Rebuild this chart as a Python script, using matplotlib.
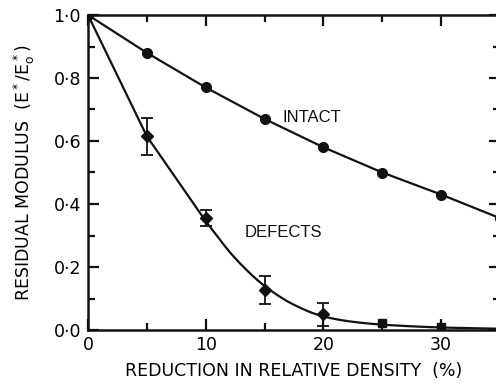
import numpy as np
import matplotlib
matplotlib.use("Agg")
import matplotlib.pyplot as plt
from matplotlib.ticker import MultipleLocator, FuncFormatter

# Data
intact_x = [0, 5, 10, 15, 20, 25, 30, 35]
intact_y = [1.0, 0.88, 0.77, 0.67, 0.58, 0.50, 0.43, 0.355]

defect_x = [5, 10, 15, 20]
defect_y = [0.615, 0.355, 0.127, 0.05]
defect_err = [0.058, 0.025, 0.046, 0.037]

square_x = [25, 30]
square_y = [0.022, 0.01]

# trend line: straight part, then a smooth tail
curve_lin_x = [0, 5, 10]
curve_lin_y = [1.0, 0.615, 0.345]
curve_tail_x = [10, 12.5, 15, 17.5, 20, 22.5, 25, 30, 35]
curve_tail_y = [0.345, 0.228, 0.14, 0.08, 0.043, 0.026, 0.017, 0.008, 0.004]


def pchip(xk, yk, xs):
    xk = np.asarray(xk, float); yk = np.asarray(yk, float)
    h = np.diff(xk); d = np.diff(yk) / h
    n = len(xk)
    m = np.zeros(n)
    for i in range(1, n - 1):
        if d[i - 1] * d[i] <= 0:
            m[i] = 0
        else:
            w1 = 2 * h[i] + h[i - 1]; w2 = h[i] + 2 * h[i - 1]
            m[i] = (w1 + w2) / (w1 / d[i - 1] + w2 / d[i])
    m[0] = d[0]; m[-1] = d[-1]
    out = np.empty_like(xs)
    for j, x in enumerate(xs):
        i = min(max(np.searchsorted(xk, x) - 1, 0), n - 2)
        t = (x - xk[i]) / h[i]
        h00 = 2*t**3 - 3*t**2 + 1; h10 = t**3 - 2*t**2 + t
        h01 = -2*t**3 + 3*t**2; h11 = t**3 - t**2
        out[j] = h00*yk[i] + h10*h[i]*m[i] + h01*yk[i+1] + h11*h[i]*m[i+1]
    return out


W, H = 496, 392
fig = plt.figure(figsize=(W/100, H/100), dpi=100)
left, bottom = 88/W, (H-330)/H
top = (H-15)/H
right = 500/W
ax = fig.add_axes([left, bottom, right-left, top-bottom])

font = ['Liberation Sans', 'DejaVu Sans']
plt.rcParams['font.family'] = font
col = '#111111'

xs = np.linspace(10, 35, 300)
cx = np.concatenate([curve_lin_x, xs])
cy = np.concatenate([curve_lin_y, pchip(curve_tail_x, curve_tail_y, xs)])
ax.plot(cx, cy, color=col, lw=1.6, zorder=2)
ax.plot(intact_x, intact_y, color=col, lw=1.6, marker='o', ms=7, zorder=3)
ax.errorbar(defect_x, defect_y, yerr=defect_err, fmt='D', ms=6, color=col,
            ecolor=col, elinewidth=1.3, capsize=4, capthick=1.3, zorder=3)
ax.plot(square_x, square_y, 's', color=col, ms=6, zorder=3)

ax.set_xlim(0, 35)
ax.set_ylim(0, 1.0)
for s in ax.spines.values():
    s.set_linewidth(1.8)
    s.set_color(col)

ax.xaxis.set_major_locator(MultipleLocator(10))
ax.xaxis.set_minor_locator(MultipleLocator(5))
ax.yaxis.set_major_locator(MultipleLocator(0.2))
ax.yaxis.set_minor_locator(MultipleLocator(0.1))
ax.yaxis.set_major_formatter(FuncFormatter(lambda v, p: f"{v:.1f}".replace('.', '·')))
ax.xaxis.set_major_formatter(FuncFormatter(lambda v, p: f"{v:.0f}"))
ax.tick_params(which='both', direction='in', top=True, right=True, color=col,
               width=1.6, labelsize=12.5, pad=5)
ax.tick_params(axis='x', which='both', pad=4)
ax.tick_params(which='major', length=8)
ax.tick_params(which='minor', length=5)

ax.set_xlabel('REDUCTION IN RELATIVE DENSITY  (%)', fontsize=12.5, labelpad=6)
ax.set_ylabel(r'RESIDUAL MODULUS  $(\mathregular{E^*/E^*_o})$', fontsize=12.5, labelpad=12)

ax.text(19.0, 0.676, 'INTACT', fontsize=12, ha='center', va='center', color=col)
ax.text(16.6, 0.31, 'DEFECTS', fontsize=12, ha='center', va='center', color=col)

fig.savefig('out.png', dpi=100)
